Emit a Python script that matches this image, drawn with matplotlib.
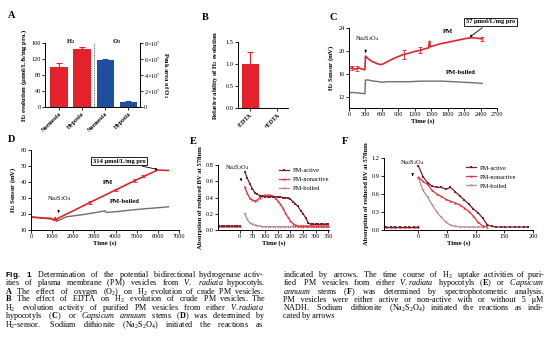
import matplotlib
matplotlib.use('Agg')
import matplotlib.pyplot as plt
import numpy as np

plt.rcParams['font.family'] = ['Liberation Serif', 'DejaVu Serif']
plt.rcParams['mathtext.fontset'] = 'custom'
plt.rcParams['mathtext.rm'] = 'Liberation Serif'
plt.rcParams['mathtext.it'] = 'Liberation Serif:italic'
plt.rcParams['mathtext.bf'] = 'Liberation Serif:bold'
plt.rcParams['mathtext.sf'] = 'Liberation Sans:bold'

# ---------------- data ----------------
a_categories = ['Normoxia', 'Hypoxia', 'Normoxia', 'Hypoxia']
a_h2 = [100, 146]
a_h2_err = [10, 4]
a_o2 = [5.85e7, 0.65e7]
a_o2_err = [0.1e7, 0.08e7]
a_o2_ticklabels = ['0', r'$2{\times}10^7$', r'$4{\times}10^7$', r'$6{\times}10^7$', r'$8{\times}10^7$']

b_categories = ['-EDTA', '+EDTA']
b_values = [1.0, 0.01]
b_err = [0.27, 0.0]

c_pm_t = [0, 60, 120, 180, 240, 290, 300, 330, 380, 430, 480, 530, 580, 620, 700, 800, 900,
          1000, 1100, 1200, 1300, 1400, 1450, 1470, 1480, 1550, 1650, 1750, 1850, 1950, 2050,
          2150, 2250, 2350, 2420]
c_pm = [16.9, 17.0, 16.8, 17.0, 16.8, 16.7, 19.1, 18.8, 18.4, 18.1, 17.9, 17.7, 17.6, 17.7, 18.1,
        18.6, 19.0, 19.4, 19.6, 19.9, 20.1, 20.4, 20.5, 21.7, 20.7, 20.9, 21.2, 21.4, 21.6, 21.8,
        22.0, 22.2, 22.3, 22.2, 22.1]
c_pm_err_t = [60, 150, 1000, 1300, 2420]
c_pm_err_v = [17.0, 16.9, 19.4, 20.1, 22.1]
c_pm_err = [0.4, 0.4, 0.8, 0.5, 0.4]
c_boiled_t = [0, 100, 200, 290, 300, 350, 450, 550, 600, 700, 900, 1100, 1300, 1500, 1700, 1900,
              2100, 2300, 2430]
c_boiled = [12.7, 12.7, 12.6, 12.5, 14.9, 14.9, 14.7, 14.6, 14.5, 14.6, 14.6, 14.6, 14.7, 14.7,
            14.7, 14.6, 14.5, 14.4, 14.3]

d_pm_t = [0, 300, 600, 900, 1000, 1100, 1150, 1200, 1250, 1300, 2000, 2800, 3500, 4200, 4900,
          5500, 6000, 6500]
d_pm = [18.0, 17.8, 17.5, 17.3, 16.8, 16.0, 17.8, 15.5, 17.0, 17.5, 22.0, 27.3, 31.8, 36.3, 40.8,
        44.5, 47.5, 47.2]
d_pm_err_t = [2800, 4000, 4900, 5300]
d_pm_err_v = [27.3, 35.0, 40.8, 43.5]
d_pm_err = [0.8, 0.6, 0.8, 0.6]
d_boiled_t = [0, 500, 1000, 1300, 1450, 1500, 1700, 2400, 3000, 3500, 3550, 4000, 4600, 5400,
              6000, 6500]
d_boiled = [18.2, 17.5, 16.8, 16.0, 16.8, 17.3, 18.3, 19.5, 20.8, 22.0, 21.0, 21.4, 22.3, 23.3,
            23.9, 24.5]

e_base_t = [-80, -70, -60, -50, -40, -30, -20, -10, 0]
e_base = [0.05, 0.05, 0.05, 0.05, 0.05, 0.05, 0.05, 0.05, 0.05]
e_t = [20, 30, 40, 50, 60, 70, 80, 90, 100, 110, 120, 130, 140, 150, 160, 170, 180, 190, 200,
       210, 220, 230, 240, 250, 260, 270, 280, 290, 300, 310, 320, 330, 340, 350]
e_active = [0.72, 0.64, 0.57, 0.51, 0.46, 0.44, 0.42, 0.42, 0.41, 0.41, 0.41, 0.41, 0.41, 0.41,
            0.41, 0.40, 0.40, 0.39, 0.38, 0.35, 0.32, 0.29, 0.24, 0.20, 0.15, 0.09, 0.07, 0.07,
            0.07, 0.07, 0.07, 0.07, 0.07, 0.07]
e_nonactive = [0.53, 0.45, 0.39, 0.37, 0.36, 0.37, 0.40, 0.42, 0.43, 0.43, 0.43, 0.42, 0.40, 0.36,
               0.32, 0.27, 0.21, 0.16, 0.11, 0.08, 0.06, 0.05, 0.05, 0.05, 0.05, 0.05, 0.05, 0.05,
               0.05, 0.05, 0.05, 0.05, 0.05, 0.05]
e_boiled = [0.20, 0.13, 0.09, 0.07, 0.06, 0.05, 0.05, 0.04, 0.04, 0.04, 0.04, 0.04, 0.04, 0.04,
            0.04, 0.04, 0.04, 0.04, 0.04, 0.04, 0.04, 0.04, 0.04, 0.04, 0.04, 0.04, 0.04, 0.04,
            0.04, 0.04, 0.04, 0.04, 0.04, 0.04]

f_base_t = [-56, -48, -40, -32, -24, -16, -8, 0]
f_base = [0.05, 0.05, 0.05, 0.05, 0.05, 0.05, 0.05, 0.05]
f_active_t = [0, 8, 16, 24, 32, 40, 48, 56, 64, 72, 80, 88, 96, 104, 112, 120, 128, 136, 144,
              152, 160, 168, 176, 184, 192]
f_active = [1.07, 0.89, 0.79, 0.73, 0.71, 0.71, 0.68, 0.71, 0.64, 0.57, 0.50, 0.43, 0.35, 0.29,
            0.20, 0.09, 0.06, 0.05, 0.05, 0.05, 0.05, 0.05, 0.05, 0.05, 0.05]
f_nonactive_t = [0, 8, 16, 24, 32, 40, 48, 56, 64, 72, 80, 88, 96, 104, 112, 120]
f_nonactive = [0.88, 0.81, 0.76, 0.66, 0.60, 0.56, 0.51, 0.48, 0.45, 0.42, 0.37, 0.31, 0.23, 0.13,
               0.07, 0.05]
f_boiled_t = [0, 8, 16, 24, 32, 40, 48, 56, 64, 72, 80, 88, 96, 104, 112]
f_boiled = [0.87, 0.66, 0.55, 0.42, 0.30, 0.21, 0.13, 0.08, 0.06, 0.05, 0.05, 0.05, 0.05, 0.05,
            0.05]

series_names = ['PM-active', 'PM-nonactive', 'PM-boiled']

caption_left = [
    r'$\mathsf{Fig.}$ $\mathsf{1}$ Determination of the potential bidirectional hydrogenase activ-',
    r'ities of plasma membrane (PM) vesicles from $\mathit{V.}$ $\mathit{radiata}$ hypocotyls.',
    r'$\mathbf{A}$ The effect of oxygen (O$_2$) on H$_2$ evolution of crude PM vesicles.',
    r'$\mathbf{B}$ The effect of EDTA on H$_2$ evolution of crude PM vesicles. The',
    r'H$_2$ evolution activity of purified PM vesicles from either $\mathit{V.radiata}$',
    r'hypocotyls ($\mathbf{C}$) or $\mathit{Capsicum}$ $\mathit{annuum}$ stems ($\mathbf{D}$) was determined by',
    r'H$_2$-sensor. Sodium dithionite (Na$_2$S$_2$O$_4$) initiated the reactions as',
]
caption_right = [
    r'indicated by arrows. The time course of H$_2$ uptake activities of puri-',
    r'fied PM vesicles from either $\mathit{V.radiata}$ hypocotyls ($\mathbf{E}$) or $\mathit{Capsicum}$',
    r'$\mathit{annuum}$ stems ($\mathbf{F}$) was determined by spectrophotometric analysis.',
    r'PM vesicles were either active or non-active with or without 5 μM',
    r'NADH. Sodium dithionite (Na$_2$S$_2$O$_4$) initiated the reactions as indi-',
    r'cated by arrows',
]

RED = '#E4222B'
BLUE = '#1F4E9E'
GRAY = '#6E6E6E'
C_ACT = '#7A1F2B'
C_NON = '#E2313B'
C_BOI = '#B98A92'

W, H = 554, 354
fig = plt.figure(figsize=(W / 100, H / 100), dpi=100)


def add_ax(l, r, t, b):
    return fig.add_axes([l / W, 1 - b / H, (r - l) / W, (b - t) / H])


def style(ax, right=False):
    ax.spines['top'].set_visible(False)
    if not right:
        ax.spines['right'].set_visible(False)
    for s in ax.spines.values():
        s.set_linewidth(0.7)
    ax.tick_params(direction='out', length=2, width=0.6, labelsize=4.5, pad=1)


LBL = dict(fontsize=4.8, fontweight='bold')
ARROW = dict(arrowstyle='-|>,head_length=0.25,head_width=0.12', color='black', lw=0.6, shrinkB=0)

# ---------------- A ----------------
axA = add_ax(45, 140, 43, 107)
style(axA, right=True)
axA.bar([0, 1], a_h2, width=0.75, color=RED, zorder=2)
axA.errorbar([0, 1], a_h2, yerr=[[0, 0], a_h2_err], fmt='none', ecolor=RED, elinewidth=0.8,
             capsize=2, capthick=0.8)
axA.set_xlim(-0.6, 3.5)
axA.set_ylim(0, 160)
axA.set_yticks([0, 40, 80, 120, 160])
axA.set_xticks([0, 1, 2, 3])
axA.set_xticklabels(a_categories, rotation=45, ha='right', rotation_mode='anchor', fontsize=4.3,
                    fontweight='bold')
axA.set_ylabel(r'H$_\mathbf{2}$ evolution (μmol/L/h/mg pro.)', labelpad=2, **LBL)
axA.axvline(1.5, color='#555555', lw=0.6, ls=(0, (1.5, 1.2)))
axA.text(0.5, 164, r'H$_\mathbf{2}$', ha='center', va='center', **LBL)
axA.text(2.5, 164, r'O$_\mathbf{2}$', ha='center', va='center', **LBL)
axA2 = axA.twinx()
style(axA2, right=True)
axA2.bar([2, 3], a_o2, width=0.75, color=BLUE, zorder=2)
axA2.errorbar([2, 3], a_o2, yerr=[[0, 0], a_o2_err], fmt='none', ecolor=BLUE, elinewidth=0.8,
              capsize=2, capthick=0.8)
axA2.set_ylim(0, 8e7)
axA2.set_yticks([0, 2e7, 4e7, 6e7, 8e7])
axA2.set_yticklabels(a_o2_ticklabels)
axA2.set_ylabel(r'Peak area of O$_\mathbf{2}$', rotation=270, labelpad=6, **LBL)

# ---------------- B ----------------
axB = add_ax(238, 288, 42, 108)
style(axB)
axB.bar([0, 1], b_values, width=0.63, color=RED, zorder=2)
axB.errorbar([0], b_values[:1], yerr=[[0], b_err[:1]], fmt='none', ecolor=RED, elinewidth=0.8,
             capsize=2, capthick=0.8)
axB.set_xlim(-0.45, 1.4)
axB.set_ylim(0, 1.5)
axB.set_yticks([0, 0.5, 1.0, 1.5])
axB.set_yticklabels(['0.0', '0.5', '1.0', '1.5'])
axB.set_xticks([0, 1])
axB.set_xticklabels(b_categories, rotation=45, ha='right', rotation_mode='anchor', fontsize=4.3,
                    fontweight='bold')
axB.set_ylabel(r'Relative ability of H$_\mathbf{2}$ evolution', labelpad=4, **LBL)

# ---------------- C ----------------
axC = add_ax(349, 497, 28, 108)
style(axC)
axC.plot(c_boiled_t, c_boiled, color=GRAY, lw=1.0)
axC.plot(c_pm_t, c_pm, color=RED, lw=1.2)
axC.errorbar(c_pm_err_t, c_pm_err_v, yerr=c_pm_err, fmt='none', ecolor=RED, elinewidth=0.6,
             capsize=1.2, capthick=0.6)
axC.set_xlim(0, 2700)
axC.set_ylim(10, 24)
axC.set_xticks(range(0, 2701, 300))
axC.set_yticks([12, 16, 20, 24])
axC.set_xlabel('Time (s)', labelpad=1, **LBL)
axC.set_ylabel(r'H$_\mathbf{2}$ Sensor (mV)', labelpad=2, **LBL)
axC.annotate(r'Na$_2$S$_2$O$_4$', xy=(300, 19.6), xytext=(330, 22.2), ha='center', va='center',
             fontsize=4.6, annotation_clip=False, arrowprops=dict(ARROW, shrinkA=3))
axC.text(1800, 23.4, 'PM', ha='center', va='center', **LBL)
axC.text(2050, 16.2, 'PM-boiled', ha='center', va='center', **LBL)
axC.annotate('57 μmol/L/mg pro', xy=(2200, 22.4), xytext=(2580, 25.1), ha='center', va='center',
             fontsize=4.6, fontweight='bold', annotation_clip=False,
             bbox=dict(boxstyle='square,pad=0.25', fc='white', ec='black', lw=0.6),
             arrowprops=ARROW)

# ---------------- D ----------------
axD = add_ax(31, 179, 150, 230)
style(axD)
axD.plot(d_boiled_t, d_boiled, color=GRAY, lw=1.0)
axD.plot(d_pm_t, d_pm, color=RED, lw=1.2)
axD.errorbar(d_pm_err_t, d_pm_err_v, yerr=d_pm_err, fmt='none', ecolor=RED, elinewidth=0.6,
             capsize=1.2, capthick=0.6)
axD.set_xlim(0, 7000)
axD.set_ylim(10, 60)
axD.set_xticks(range(0, 7001, 1000))
axD.set_yticks(range(10, 61, 10))
axD.set_xlabel('Time (s)', labelpad=1, **LBL)
axD.set_ylabel(r'H$_\mathbf{2}$ Sensor (mV)', labelpad=2, **LBL)
axD.annotate(r'Na$_2$S$_2$O$_4$', xy=(1300, 20.5), xytext=(1350, 29.5), ha='center',
             va='center', fontsize=4.6, arrowprops=dict(ARROW, shrinkA=3))
axD.text(3650, 40, 'PM', ha='center', va='center', **LBL)
axD.text(4450, 27.7, 'PM-boiled', ha='center', va='center', **LBL)
axD.annotate('314 μmol/L/mg pro', xy=(6000, 47.8), xytext=(4170, 53), ha='center', va='center',
             fontsize=4.6, fontweight='bold', annotation_clip=False,
             bbox=dict(boxstyle='square,pad=0.25', fc='white', ec='black', lw=0.6),
             arrowprops=ARROW)


# ---------------- E / F ----------------
def kinetic(ax, base_t, base, curves, xlim, xticks, ylim, yticks, arrow_xy, text_xy, leg_anchor):
    style(ax)
    colors = [C_ACT, C_NON, C_BOI]
    markers = ['s', '^', 'v']
    handles = []
    for (t, v), c, m, name in reversed(list(zip(curves, colors, markers, series_names))):
        ax.plot(base_t, base, color=c, lw=0.9, marker=m, ms=1.7, mew=0)
        h, = ax.plot(t, v, color=c, lw=0.9, marker=m, ms=1.7, mew=0, label=name)
        handles.append(h)
    handles = handles[::-1]
    ax.set_xlim(*xlim)
    ax.set_ylim(*ylim)
    ax.set_xticks(xticks)
    ax.set_yticks(yticks)
    ax.set_yticklabels(['{:.1f}'.format(v) for v in yticks])
    ax.set_xlabel('Time (s)', labelpad=1, **LBL)
    ax.set_ylabel('Absorption of reduced BV at 578nm', labelpad=2, **LBL)
    ax.annotate(r'Na$_2$S$_2$O$_4$', xy=arrow_xy, xytext=text_xy, ha='center', va='center',
                fontsize=4.6, annotation_clip=False, arrowprops=dict(ARROW, shrinkA=3.5))
    ax.legend(handles=handles, loc='upper left', bbox_to_anchor=leg_anchor, frameon=False,
              fontsize=4.6, handlelength=1.6, handletextpad=0.5, labelspacing=0.55,
              borderaxespad=0, borderpad=0)


axE = add_ax(218, 329, 165, 230)
kinetic(axE, e_base_t, e_base,
        [(e_t, e_active), (e_t, e_nonactive), (e_t, e_boiled)],
        (-85, 352), range(0, 351, 50), (0, 0.8), [0, 0.2, 0.4, 0.6, 0.8],
        (8, 0.6), (-10, 0.77), (0.55, 0.96))

axF = add_ax(384, 533, 158, 230)
kinetic(axF, f_base_t, f_base,
        [(f_active_t, f_active), (f_nonactive_t, f_nonactive), (f_boiled_t, f_boiled)],
        (-60, 200), [0, 50, 100, 150, 200], (0, 1.2), [0, 0.3, 0.6, 0.9, 1.2],
        (-10, 0.9), (-10, 1.12), (0.55, 0.9))

# ---------------- panel letters ----------------
for lab, x, y in [('A', 8, 16), ('B', 202, 17), ('C', 330, 18), ('D', 8, 140), ('E', 190, 141),
                  ('F', 342, 141)]:
    fig.text(x / W, 1 - y / H, lab, fontsize=7.5, fontweight='bold', ha='left', va='center')

# ---------------- caption (justified by distributing spaces) ----------------
CAP = 5.9
renderer = fig.canvas.get_renderer()


def text_width(t):
    return t.get_window_extent(renderer).width


def draw_line(s, x0, x1, y, justify=True):
    t = fig.text(x0 / W, 1 - y / H, s, fontsize=CAP, ha='left', va='baseline')
    fs = CAP
    w = text_width(t)
    if w > x1 - x0:
        fs = CAP * (x1 - x0) / w * 0.995
        t.set_fontsize(fs)
        w = text_width(t)
    if not justify:
        return
    probe1 = fig.text(0, 0, 'a b', fontsize=fs)
    probe2 = fig.text(0, 0, 'a          b', fontsize=fs)
    sw = (text_width(probe2) - text_width(probe1)) / 9.0
    probe1.remove()
    probe2.remove()
    parts = s.split(' ')
    n = len(parts) - 1
    k = int(round((x1 - x0 - w) / sw))
    if n < 1 or k <= 0:
        return
    out = parts[0]
    for i in range(n):
        extra = k // n + (1 if i < k % n else 0)
        out += ' ' * (1 + extra) + parts[i + 1]
    t.set_text(out)


y0, dy = 277.0, 8.3
for i, ln in enumerate(caption_left):
    draw_line(ln, 5, 264, y0 + i * dy, justify=True)
for i, ln in enumerate(caption_right):
    draw_line(ln, 283, 544, y0 + i * dy, justify=(i < len(caption_right) - 1))

fig.savefig('out.png', dpi=100)
